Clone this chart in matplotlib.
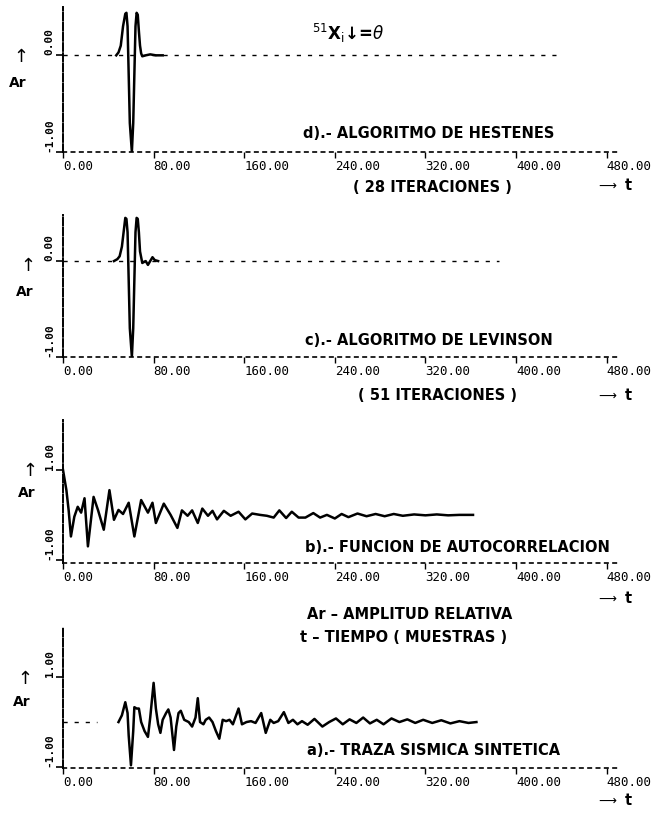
import matplotlib
matplotlib.use("Agg")
import matplotlib.pyplot as plt
from matplotlib.transforms import ScaledTranslation

W, H = 657, 813

t_ticks = [0, 80, 160, 240, 320, 400, 480]
t_labels = ["0.00", "80.00", "160.00", "240.00", "320.00", "400.00", "480.00"]

# d) algoritmo de Hestenes (28 iteraciones)
hest_t = [47, 49, 51, 53, 55, 56, 57, 58, 59, 60.8, 62, 63, 64, 65, 66, 67, 68, 69, 70, 73, 77, 82, 88]
hest_ar = [0.0, 0.03, 0.1, 0.3, 0.43, 0.44, 0.3, -0.2, -0.7, -1.0, -0.7, -0.2, 0.3, 0.44, 0.42, 0.25, 0.1, 0.02, -0.01, 0.0, 0.01, 0.0, 0.0]
hest_base_end = 435

# c) algoritmo de Levinson (51 iteraciones)
lev_t = [45, 48, 50, 52, 54, 55, 56, 57, 58, 59, 60.8, 62, 63, 64, 65, 66, 67, 68, 70, 73, 75, 77, 79, 81, 84]
lev_ar = [0.0, 0.02, 0.05, 0.15, 0.35, 0.45, 0.44, 0.3, -0.2, -0.7, -1.0, -0.7, -0.2, 0.3, 0.45, 0.44, 0.3, 0.1, -0.02, 0.0, -0.04, 0.0, 0.04, 0.01, 0.0]
lev_base_end = 385

# b) funcion de autocorrelacion
auto_t = [0, 3, 5, 7, 10, 13, 16, 19, 22, 27, 31, 36, 41, 45, 49, 53, 58, 63, 69, 75,
          79, 82, 89, 95, 101, 105, 110, 114, 119, 123, 128, 132, 136, 142, 148, 155, 161, 167, 174, 180,
          186, 191, 197, 202, 208, 214, 221, 227, 233, 240, 246, 252, 260, 268, 276, 284, 292, 300, 310, 320,
          330, 340, 350, 362]
auto_ar = [1.0, 0.55, 0.1, -0.48, -0.04, 0.18, 0.05, 0.37, -0.7, 0.4, 0.1, -0.33, 0.55, -0.11, 0.11, 0.02, 0.27, -0.48, 0.33, 0.05,
           0.27, -0.18, 0.25, 0.0, -0.29, 0.1, -0.02, 0.1, -0.18, 0.14, -0.02, 0.09, -0.1, 0.09, -0.02, 0.07, -0.1, 0.03, 0.0, -0.02,
           -0.06, 0.1, -0.07, 0.07, -0.06, -0.06, 0.04, -0.06, 0.0, -0.08, 0.02, -0.05, 0.03, -0.03, 0.02, -0.03, 0.02, -0.02, 0.01, -0.01,
           0.01, -0.01, 0.0, 0.0]
auto_base_end = 0

# a) traza sismica sintetica
traza_t = [49, 52, 55, 57, 58, 60, 62, 63, 65, 67, 69, 72, 75, 77, 80, 82, 84, 86, 88, 91,
           93, 95, 98, 100, 102, 104, 107, 111, 114, 117, 119, 121, 124, 126, 129, 132, 135, 138, 141, 144,
           147, 150, 155, 158, 162, 166, 170, 175, 179, 183, 186, 190, 195, 199, 203, 207, 211, 216, 222, 229,
           235, 241, 247, 253, 259, 265, 271, 277, 283, 290, 297, 304, 311, 318, 326, 334, 342, 350, 358, 365]
traza_ar = [0.0, 0.15, 0.44, 0.2, -0.3, -0.96, -0.2, 0.33, 0.3, 0.3, 0.0, -0.2, -0.33, 0.1, 0.87, 0.3, -0.05, -0.24, 0.05, 0.2,
            0.28, 0.1, -0.62, -0.1, 0.2, 0.25, 0.05, 0.0, -0.1, 0.1, 0.53, 0.0, -0.05, 0.05, 0.1, 0.0, -0.2, -0.37, 0.05, 0.02,
            0.05, -0.05, 0.3, -0.05, 0.0, 0.02, -0.02, 0.2, -0.24, 0.05, -0.02, 0.02, 0.22, -0.02, 0.05, -0.05, 0.02, -0.06, 0.07, -0.1,
            0.0, 0.08, -0.05, 0.06, -0.02, 0.1, -0.03, 0.05, -0.05, 0.08, 0.0, 0.06, -0.02, 0.05, -0.02, 0.04, -0.03, 0.02, -0.02, 0.0]
traza_base_end = 30

fig = plt.figure(figsize=(W / 100, H / 100), dpi=100)
fig.patch.set_facecolor("white")


def put(x, y, s, **kw):
    fig.text(x / W, 1 - y / H, s, **kw)


def px_axes(left, top, right, bottom):
    return fig.add_axes([left / W, 1 - bottom / H, (right - left) / W, (bottom - top) / H])


x0, x1 = 63, 618
mono = "DejaVu Sans Mono"
offset = ScaledTranslation(-0.08, 0, fig.dpi_scale_trans)

panels = [
    (hest_t, hest_ar, hest_base_end, 7, 152, (-1.0, 0.5), [-1, 0], ["-1.00", "0.00"]),
    (lev_t, lev_ar, lev_base_end, 215, 357, (-1.0, 0.48), [-1, 0], ["-1.00", "0.00"]),
    (auto_t, auto_ar, auto_base_end, 420, 563, (-1.07, 2.11), [-1, 1], ["-1.00", "1.00"]),
    (traza_t, traza_ar, traza_base_end, 627, 768, (-1.02, 2.11), [-1, 1], ["-1.00", "1.00"]),
]

for t, ar, base_end, top, bottom, ylim, yt, yl in panels:
    ax = px_axes(x0, top, x1, bottom)
    ax.set_facecolor("none")
    ax.set_xlim(0, 490)
    ax.set_ylim(*ylim)
    if base_end > 0:
        ax.plot([0, base_end], [0, 0], color="black", lw=1.0, ls=(0, (3, 5)))
    ax.plot(t, ar, color="black", lw=1.8, solid_joinstyle="round")
    for s in ["top", "right"]:
        ax.spines[s].set_visible(False)
    ax.spines["left"].set_linestyle((0, (4, 1.2)))
    ax.spines["left"].set_linewidth(1.4)
    ax.spines["bottom"].set_linestyle((0, (2, 3)))
    ax.spines["bottom"].set_linewidth(1.2)
    ax.set_xticks(t_ticks, t_labels, ha="left", fontsize=9, family=mono)
    for lab in ax.get_xticklabels():
        lab.set_transform(lab.get_transform() + offset)
    ax.tick_params(axis="x", direction="out", length=4, width=1, pad=2)
    ax.set_yticks(yt, yl, rotation=90, va="bottom", fontsize=8, family=mono, fontweight="bold")
    ax.tick_params(axis="y", direction="out", length=5, width=1.2, pad=1)

bold = dict(fontsize=10.5, fontweight="bold", va="center", ha="left")

put(312, 33, r"$^{51}$X$_\mathrm{i}$↓=$\theta$", fontsize=12, fontweight="bold", va="center")
put(303, 134, "d).- ALGORITMO DE HESTENES", **bold)
put(353, 187, "( 28 ITERACIONES )", **bold)

put(305, 340, "c).- ALGORITMO DE LEVINSON", **bold)
put(358, 395, "( 51 ITERACIONES )", **bold)

put(305, 548, "b).- FUNCION DE AUTOCORRELACION", **bold)
put(307, 614, "Ar – AMPLITUD RELATIVA", **bold)
put(300, 637, "t – TIEMPO ( MUESTRAS )", **bold)

put(307, 750, "a).- TRAZA SISMICA SINTETICA", **bold)

for y in [185, 395, 598, 800]:
    put(596, y, r"$\longrightarrow$", fontsize=9, va="center", ha="left")
    put(628, y, "t", fontsize=10.5, fontweight="bold", va="center", ha="center")

for xa, ya, yr in [(18, 57, 83), (25, 266, 292), (27, 471, 493), (22, 679, 702)]:
    put(xa, ya, r"$\uparrow$", fontsize=13, va="center", ha="center")
    put(xa, yr, "Ar", fontsize=10, fontweight="bold", va="center", ha="center")

fig.savefig("out.png", dpi=100)
